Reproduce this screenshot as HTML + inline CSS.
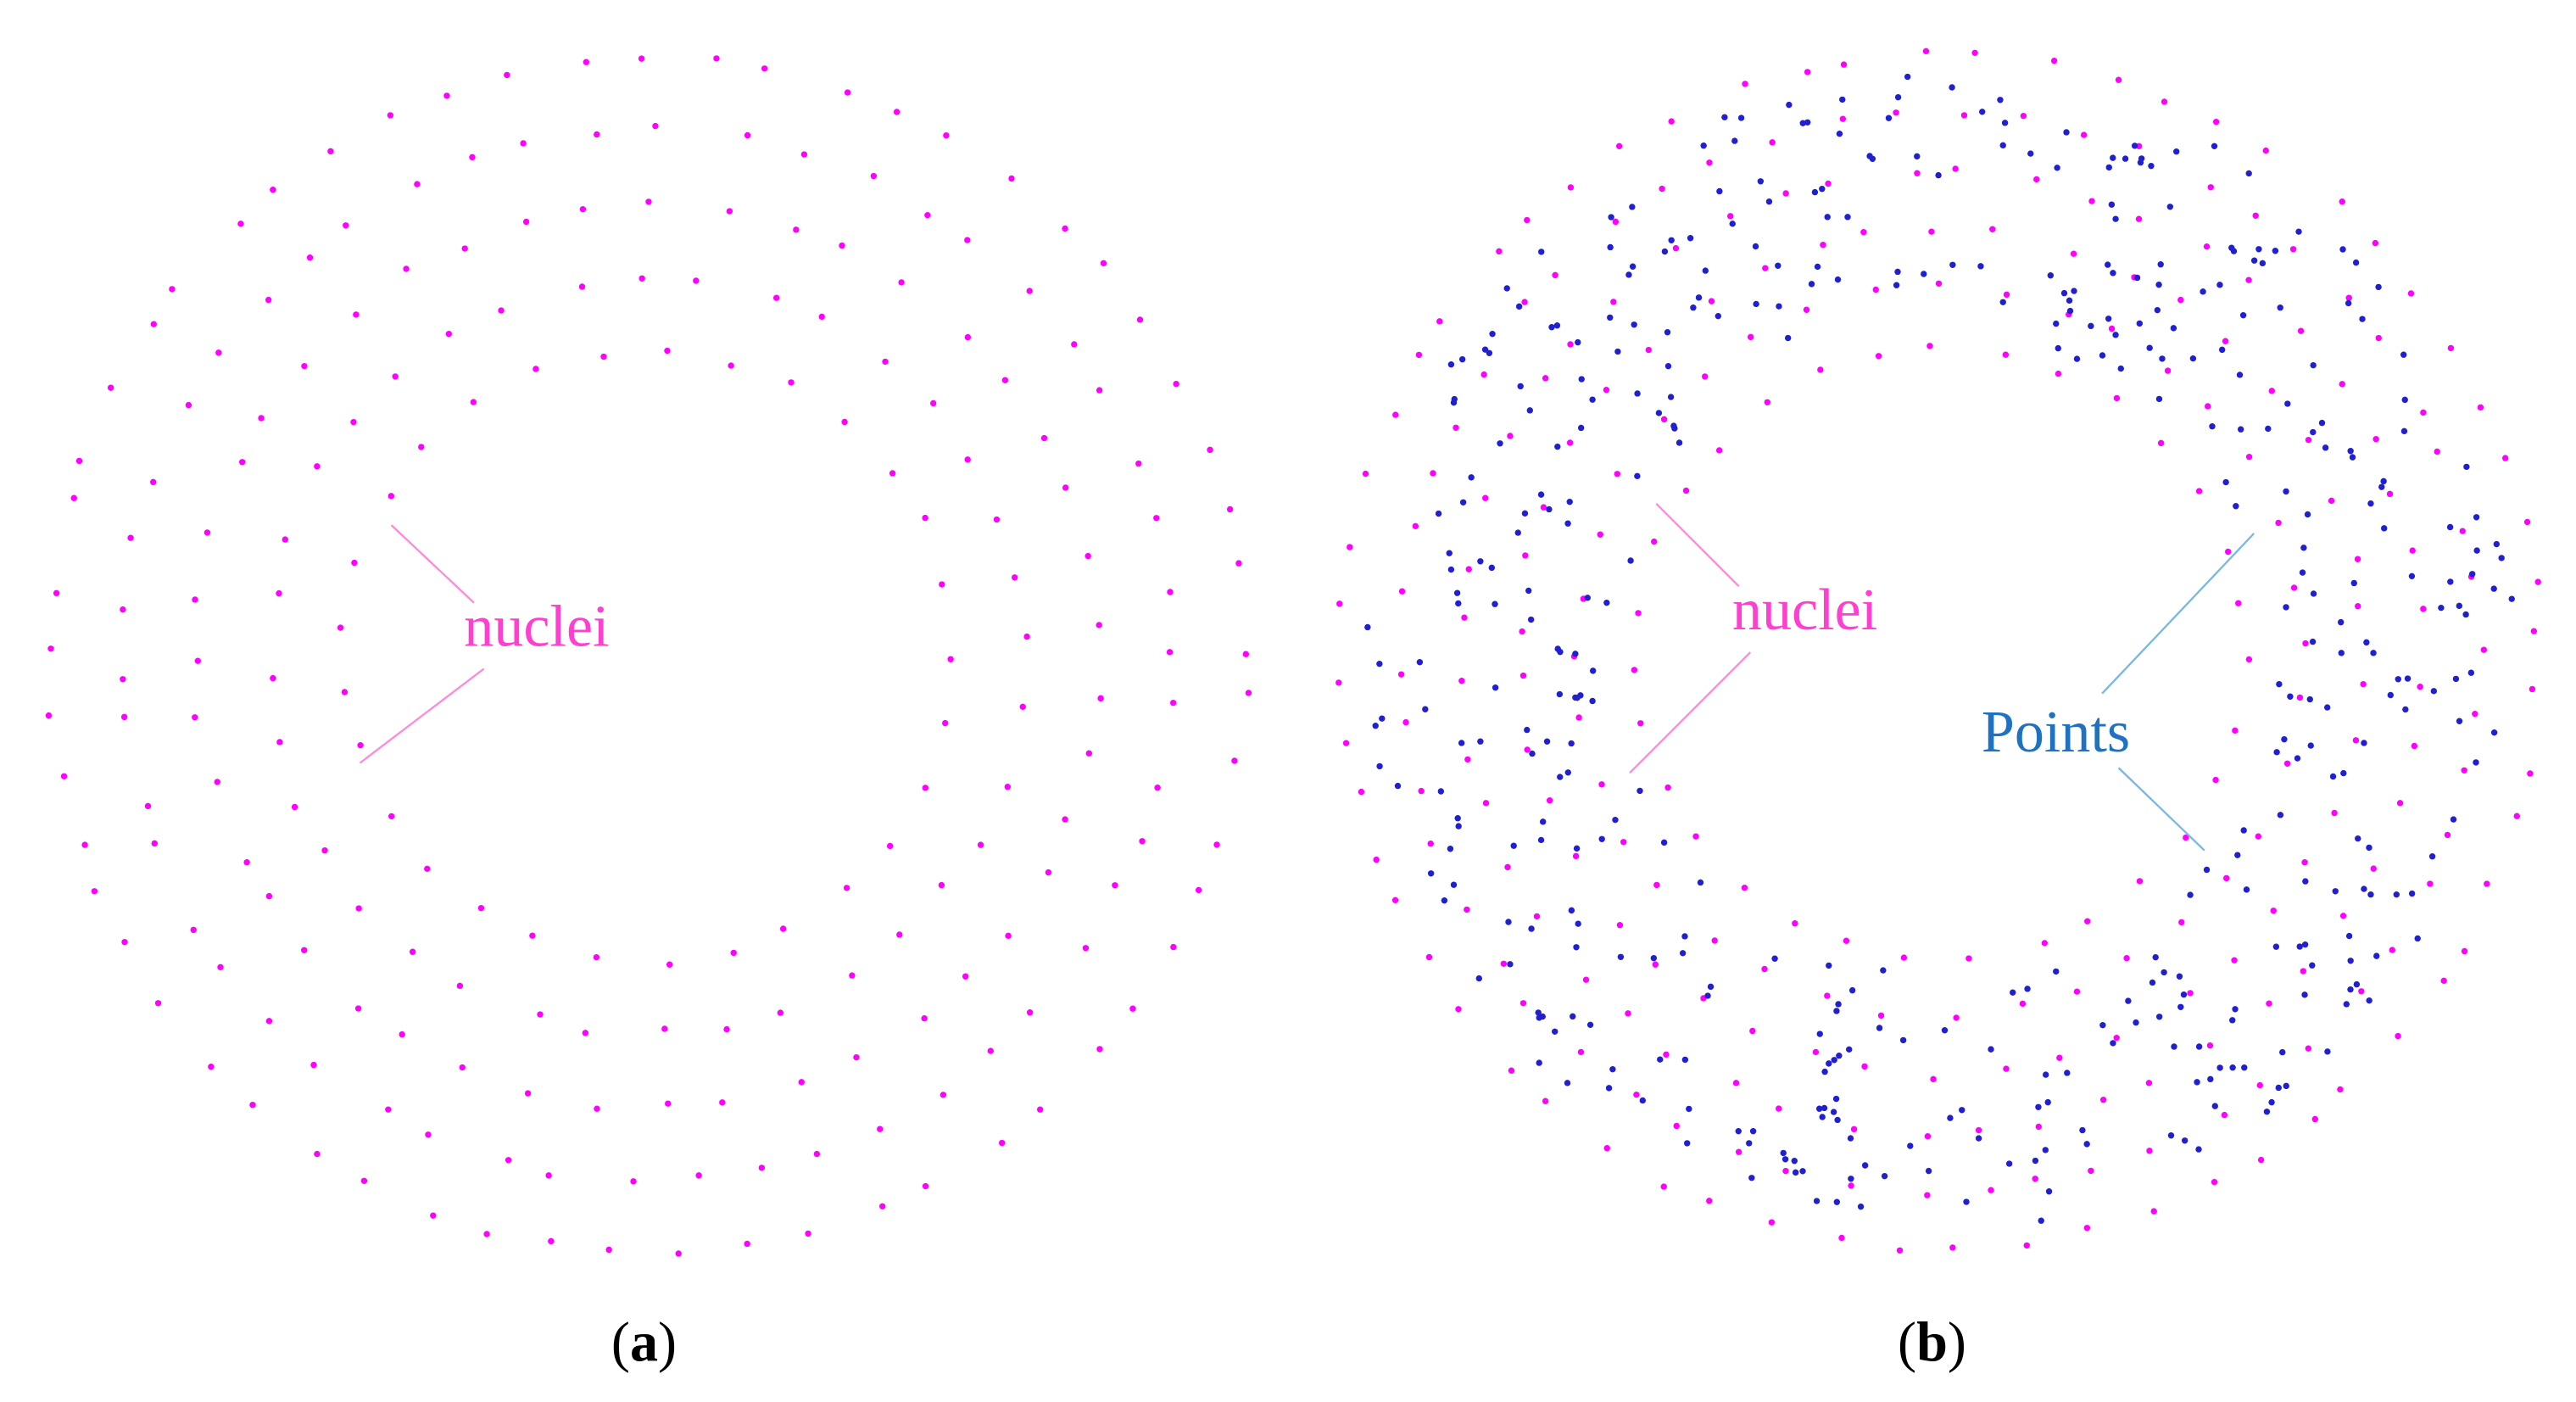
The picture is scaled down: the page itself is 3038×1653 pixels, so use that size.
<!DOCTYPE html>
<html><head><meta charset="utf-8"><style>
html,body{margin:0;padding:0;background:#fff;width:3038px;height:1653px;overflow:hidden}
svg{display:block}
text{font-family:"Liberation Serif",serif}
</style></head><body>
<svg id="s" width="3038" height="1653" viewBox="0 0 1560 849" preserveAspectRatio="none" xmlns="http://www.w3.org/2000/svg">
<g id="dots"></g>
<line x1="237" y1="318" x2="287" y2="365" stroke="#ff8ad8" stroke-width="1.2"/>
<line x1="218" y1="462" x2="293" y2="405" stroke="#ff8ad8" stroke-width="1.2"/>
<text x="325" y="391" font-size="36" fill="#ff3fd0" text-anchor="middle">nuclei</text>
<line x1="1003" y1="305" x2="1053" y2="355" stroke="#ff8ad8" stroke-width="1.2"/>
<line x1="987" y1="468" x2="1060" y2="395" stroke="#ff8ad8" stroke-width="1.2"/>
<text x="1093" y="381" font-size="36" fill="#ff3fd0" text-anchor="middle">nuclei</text>
<line x1="1273" y1="420" x2="1365" y2="323" stroke="#7ab8e0" stroke-width="1.2"/>
<line x1="1283" y1="465" x2="1335" y2="515" stroke="#7ab8e0" stroke-width="1.2"/>
<text x="1245" y="455" font-size="36" fill="#1f72c0" text-anchor="middle">Points</text>
<text x="390" y="824" font-size="34" fill="#000" text-anchor="middle">(<tspan font-weight="bold">a</tspan>)</text>
<text x="1170" y="824" font-size="34" fill="#000" text-anchor="middle">(<tspan font-weight="bold">b</tspan>)</text>
</svg>
<script>
var seed=7;function r(){seed=(seed*16807)%2147483647;return seed/2147483647;}
var g=document.getElementById('dots'),h='';
function ring(cx,cy,rin,rout,n,col,jit){
 for(var k=0;k<n;k++){
  var rr=Math.sqrt(rin*rin+(rout*rout-rin*rin)*r());
  var a=r()*Math.PI*2;
  h+='<circle cx="'+(cx+rr*Math.cos(a)).toFixed(1)+'" cy="'+(cy+rr*Math.sin(a)).toFixed(1)+'" r="1.9" fill="'+col+'"/>';
 }
}
function rings(cx,cy,rin,rout,nr,col,dens){
 for(var i=0;i<nr;i++){
  var rr=rin+(rout-rin)*i/(nr-1);
  var n=Math.round(2*Math.PI*rr/dens);var off=r()*6.28;
  for(var k=0;k<n;k++){
   var a=off+k*2*Math.PI/n+(r()-0.5)*0.05;
   var x=cx+rr*Math.cos(a)+(r()-0.5)*6,y=cy+rr*Math.sin(a)+(r()-0.5)*6;
   h+='<circle cx="'+x.toFixed(1)+'" cy="'+y.toFixed(1)+'" r="1.9" fill="'+col+'"/>';
  }
 }
}
rings(392,397,185,362,5,'#ff00ff',40);
rings(1175,395,185,362,6,'#ff00ff',38);
ring(1175,395,195,350,420,'#2020d0');
g.innerHTML=h;
</script>
</body></html>
